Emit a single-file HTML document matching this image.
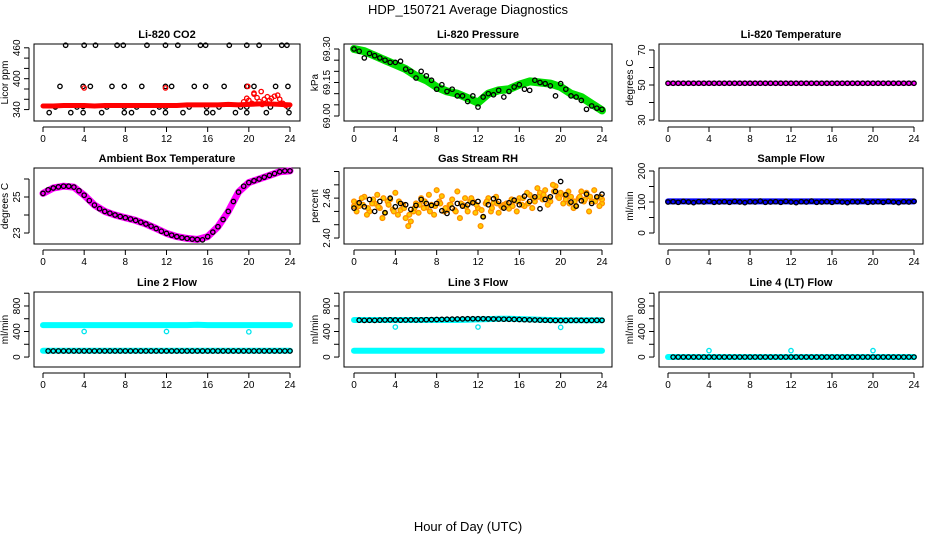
<!DOCTYPE html>
<html><head><meta charset="utf-8"><style>
body{margin:0;background:#fff;}
svg{display:block;font-family:"Liberation Sans",sans-serif;}
</style></head><body>
<svg id="chart" width="936" height="540" viewBox="0 0 936 540">
<text x="468" y="14" text-anchor="middle" font-size="13">HDP_150721  Average Diagnostics</text>
<text x="468" y="531" text-anchor="middle" font-size="13">Hour of Day (UTC)</text>
</svg>
<script>
// ---- data ----
const hours = [0,1,2,3,4,5,6,7,8,9,10,11,12,13,14,15,16,17,18,19,20,21,22,23,24];
const xTicks = [0,4,8,12,16,20,24];
// CO2
const co2BlackT = [2.2,4.0,5.1,7.2,7.8,10.1,11.9,13.1,15.3,15.8,18.1,19.8,21.0,23.2,23.7,
 1.65,3.9,4.6,6.7,7.9,9.6,11.9,12.5,14.7,15.8,17.6,19.8,20.5,22.6,23.8,
 1.2,3.3,3.9,6.2,7.9,9.1,11.3,11.9,14.2,15.9,17.1,19.2,19.8,22.1,23.8,
 0.6,2.7,3.9,5.7,7.9,8.6,10.7,11.9,13.6,15.9,16.5,18.7,19.8,21.7,23.9];
const co2BlackV = [465,465,465,465,465,465,465,465,465,465,465,465,465,465,465,
 385,385,385,385,385,385,385,385,385,385,385,385,385,385,385,
 345,345,346,345,345,345,345,345,345,345,345,345,345,345,345,
 334,334,334,334,334,334,334,334,334,334,334,334,334,334,334];
const co2Band = [347,347,348,348,348,347,348,348,348,348,348,348,348,348,349,349,349,349,350,349,350,351,351,350,349];
const co2RedT = [19.5,19.8,20,20.3,20.5,20.8,21,21.3,21.5,21.8,22,22.2,22.5,22.8,23,23.3,23.6,4,11.9,20.5,19.9,21.2];
const co2RedV = [355,362,358,352,370,363,356,350,360,365,358,362,366,368,360,352,348,382,382,372,385,375];
// Pressure
const presBand = [69.30,69.29,69.27,69.25,69.23,69.21,69.18,69.16,69.13,69.11,69.10,69.08,69.06,69.10,69.115,69.12,69.14,69.155,69.15,69.145,69.13,69.10,69.085,69.055,69.025];
const presCirc = [69.30,69.29,69.26,69.28,69.27,69.26,69.25,69.24,69.24,69.245,69.21,69.2,69.17,69.2,69.18,69.16,69.12,69.14,69.11,69.12,69.09,69.09,69.065,69.09,69.04,69.085,69.10,69.095,69.115,69.085,69.11,69.13,69.14,69.12,69.115,69.16,69.15,69.145,69.135,69.09,69.145,69.12,69.09,69.085,69.07,69.03,69.045,69.035,69.03];
// Li-820 temperature
const tempBand = [51,51,51,51,51,51,51,51,51,51,51,51,51,51,51,51,51,51,51,51,51,51,51,51,51];
const tempCirc = [51,51,51,51,51,51,51,51,51,51,51,51,51,51,51,51,51,51,51,51,51,51,51,51,51,51,51,51,51,51,51,51,51,51,51,51,51,51,51,51,51,51,51,51,51,51,51,51,51];
// Ambient
const ambBand = [25.2,25.5,25.6,25.55,25.1,24.55,24.2,24.0,23.85,23.7,23.5,23.25,22.98,22.8,22.7,22.64,22.8,23.35,24.2,25.27,25.8,26.0,26.2,26.4,26.45];
const ambCirc = [25.2,25.4,25.5,25.56,25.6,25.6,25.55,25.35,25.1,24.8,24.55,24.35,24.2,24.1,24.0,23.92,23.85,23.78,23.7,23.6,23.5,23.38,23.25,23.1,22.98,22.88,22.8,22.74,22.7,22.66,22.64,22.62,22.8,23.05,23.35,23.75,24.2,24.75,25.27,25.6,25.8,25.9,26.0,26.1,26.2,26.3,26.4,26.45,26.45];
// Gas stream RH
const rhCirc = [2.445,2.453,2.447,2.458,2.44,2.455,2.438,2.46,2.447,2.452,2.45,2.443,2.449,2.458,2.452,2.449,2.452,2.441,2.437,2.445,2.452,2.448,2.45,2.453,2.455,2.432,2.45,2.459,2.455,2.445,2.453,2.457,2.45,2.463,2.455,2.462,2.444,2.458,2.462,2.47,2.485,2.465,2.454,2.448,2.456,2.466,2.452,2.462,2.466];
const rhA = [2.455,2.448,2.462,2.44,2.452,2.445,2.438,2.458,2.468,2.442,2.43,2.425,2.452,2.46,2.446,2.45,2.472,2.463,2.442,2.458,2.47,2.45,2.44,2.455,2.445,2.432,2.46,2.453,2.438,2.45,2.444,2.456,2.46,2.448,2.465,2.455,2.468,2.472,2.455,2.478,2.468,2.458,2.462,2.448,2.47,2.468,2.455,2.46,2.452];
const rhB = [2.44,2.46,2.435,2.452,2.465,2.43,2.455,2.443,2.435,2.45,2.418,2.44,2.438,2.445,2.465,2.435,2.455,2.44,2.45,2.442,2.43,2.46,2.455,2.438,2.418,2.452,2.44,2.462,2.448,2.452,2.458,2.44,2.45,2.468,2.445,2.475,2.458,2.45,2.48,2.462,2.452,2.47,2.445,2.46,2.455,2.44,2.472,2.448,2.458];
const rhC = [2.448,2.452,2.45,2.445,2.458,2.447,2.46,2.45,2.44,2.455,2.445,2.435,2.445,2.45,2.455,2.44,2.448,2.452,2.445,2.45,2.44,2.452,2.447,2.46,2.45,2.442,2.455,2.445,2.452,2.446,2.45,2.448,2.455,2.46,2.452,2.46,2.462,2.465,2.46,2.47,2.46,2.465,2.452,2.455,2.462,2.458,2.462,2.455,2.462];
// Sample flow
const sfBand = [102,102,102,102,102,102,102,102,102,102,102,102,102,102,102,102,102,102,102,102,102,102,102,102,102];
const sfCirc = [100,101,99,102,100,98,101,100,103,99,100,101,99,102,100,98,101,100,103,99,100,101,99,102,100,98,101,100,103,99,100,101,99,102,100,98,101,100,103,99,100,101,99,102,100,98,101,100,102];
// Line 2
const l2High = [500,500,500,500,500,500,500,500,500,500,500,500,500,500,500,505,500,500,500,500,500,500,500,500,500];
const l2Low = [100,100,100,100,100,100,100,100,100,100,100,100,100,100,100,100,100,100,100,100,100,100,100,100,100];
const l2Circ = [95,95,95,95,95,95,95,95,95,95,95,95,95,95,95,95,95,95,95,95,95,95,95,95,95,95,95,95,95,95,95,95,95,95,95,95,95,95,95,95,95,95,95,95,95,95,95,95,95];
const l2OutT = [4,12,20];
const l2OutV = [400,400,395];
// Line 3
const l3High = [580,580,580,580,580,580,580,580,580,580,580,585,590,595,600,600,595,590,585,580,575,575,575,575,575];
const l3Low = [100,100,100,100,100,100,100,100,100,100,100,100,100,100,100,100,100,100,100,100,100,100,100,100,100];
const l3Circ = [580,578,575,576,575,578,580,582,580,578,580,582,580,582,585,586,588,590,592,594,596,598,600,600,600,600,598,596,595,593,592,590,588,585,582,580,578,576,575,573,572,573,575,575,574,573,575,576,575];
const l3OutT = [4,12,20];
const l3OutV = [470,470,465];
// Line 4
const l4Band = [0,0,0,0,0,0,0,0,0,0,0,0,0,0,0,0,0,0,0,0,0,0,0,0,0];
const l4Circ = [0,0,0,0,0,0,0,0,0,0,0,0,0,0,0,0,0,0,0,0,0,0,0,0,0,0,0,0,0,0,0,0,0,0,0,0,0,0,0,0,0,0,0,0,0,0,0,0,0];
const l4OutT = [4,12,20];
const l4OutV = [100,100,100];

// ---- layout ----
const NS='http://www.w3.org/2000/svg';
const svg=document.getElementById('chart');
const colL=[34,344,659], colR=[300,612,923], cx0=[43,354,668], cx24=[290,602,914];
const rowT=[44,168,292], rowB=[121,244,367];
function mk(tag,attrs,parent){const e=document.createElementNS(NS,tag);for(const k in attrs)e.setAttribute(k,attrs[k]);(parent||svg).appendChild(e);return e;}
function halfT(i){return i*0.5;}

function panel(c,r,name,title,ylab,dom,ticks,labels){
  const g=mk('g',{});
  
  
  const L=colL[c],R=colR[c],T=rowT[r],B=rowB[r];
  const xs=t=>cx0[c]+(cx24[c]-cx0[c])*t/24;
  const ys=v=>T+(dom[1]-v)/(dom[1]-dom[0])*(B-T);
  const box=mk('rect',{x:L,y:T,width:R-L,height:B-T,fill:'none',stroke:'#000','stroke-width':1},g);
  
  
  const tt=mk('text',{x:(L+R)/2,y:T-6,'text-anchor':'middle','font-size':11,'font-weight':'bold'},g);
  tt.textContent=title;
  
  
  const xa=mk('g',{},g);
  
  
  mk('line',{x1:xs(0),x2:xs(24),y1:B+6,y2:B+6,stroke:'#000'},xa);
  xTicks.forEach(t=>{mk('line',{x1:xs(t),x2:xs(t),y1:B+6,y2:B+11,stroke:'#000'},xa);
    const tx=mk('text',{x:xs(t),y:B+21,'text-anchor':'middle','font-size':10},xa);tx.textContent=t;
    
    });
  const ya=mk('g',{},g);
  
  
  mk('line',{x1:L-5,x2:L-5,y1:ys(ticks[0]),y2:ys(ticks[ticks.length-1]),stroke:'#000'},ya);
  ticks.forEach(v=>mk('line',{x1:L-10,x2:L-5,y1:ys(v),y2:ys(v),stroke:'#000'},ya));
  labels.forEach(v=>{const yy=ys(v);const tx=mk('text',{x:L-14,y:yy,'text-anchor':'middle','font-size':10,transform:`rotate(-90 ${L-14} ${yy})`},ya);tx.textContent=v;
    
    });
  const yt=mk('text',{x:L-26,y:(T+B)/2,'text-anchor':'middle','font-size':10,transform:`rotate(-90 ${L-26} ${(T+B)/2})`},g);
  yt.textContent=ylab;
  
  
  return {g,xs,ys};
}
function band(p,vals,color,w,name){
  const pts=vals.map((v,i)=>p.xs(hours[i]).toFixed(1)+','+p.ys(v).toFixed(1)).join(' ');
  const e=mk('polyline',{points:pts,fill:'none',stroke:color,'stroke-width':w,'stroke-linecap':'round','stroke-linejoin':'round'},p.g);
  
  
}
function circles(p,ts,vals,color,name,r,fill){
  const g=mk('g',{},p.g);
  
  
  vals.forEach((v,i)=>{mk('circle',{cx:p.xs(ts[i]),cy:p.ys(v),r:r||2.2,fill:fill||'none',stroke:color,'stroke-width':1.3},g);});
}
const halfTimes=[];for(let i=0;i<49;i++)halfTimes.push(halfT(i));
const qTimes=halfTimes.map(t=>Math.min(24,t+0.25));

// Panel 1
let p=panel(0,0,'co2','Li-820 CO2','Licor ppm',[317.8,467.4],[340,360,380,400,420,440,460],[340,400,460]);
circles(p,co2BlackT,co2BlackV,'#000','co2-raw-points');
band(p,co2Band,'#ff0000',5,'co2-average-band');
circles(p,co2RedT,co2RedV,'#ff0000','co2-average-points');
// Panel 2
p=panel(1,0,'pressure','Li-820 Pressure','kPa',[68.9776,69.3224],[69.00,69.05,69.10,69.15,69.20,69.25,69.30],['69.00','69.15','69.30']);
band(p,presBand,'#00e000',8,'pressure-average-band');
circles(p,halfTimes,presCirc,'#000','pressure-raw-points');
// Panel 3
p=panel(2,0,'li820-temp','Li-820 Temperature','degrees C',[29.43,73.43],[30,40,50,60,70],[30,50,70]);
band(p,tempBand,'#ff00ff',5,'temp-average-band');
circles(p,halfTimes,tempCirc,'#000','temp-raw-points');
// Panel 4
p=panel(0,1,'ambient','Ambient Box Temperature','degrees C',[22.39,26.61],[23,24,25,26],[23,25]);
band(p,ambBand,'#ff00ff',7,'ambient-average-band');
circles(p,halfTimes,ambCirc,'#000','ambient-raw-points');
// Panel 5
p=panel(1,1,'rh','Gas Stream RH','percent',[2.391,2.5053],[2.40,2.42,2.44,2.46,2.48,2.50],['2.40','2.46']);
circles(p,halfTimes,rhA,'#ff9000','rh-average-points-a',2.4,'#ffcc00');
circles(p,qTimes,rhB,'#ff9000','rh-average-points-b',2.4,'#ffcc00');
circles(p,halfTimes.map(t=>Math.max(0,t-0.15)),rhC,'#ff9000','rh-average-points-c',2.4,'#ffcc00');
circles(p,halfTimes,rhCirc,'#000','rh-raw-points');
// Panel 6
p=panel(2,1,'sample-flow','Sample Flow','ml/min',[-35.5,209.7],[0,50,100,150,200],[0,100,200]);
band(p,sfBand,'#0000ff',6,'sample-flow-band');
circles(p,halfTimes,sfCirc,'#000','sample-flow-raw-points');
// Panel 7
p=panel(0,2,'line2','Line 2 Flow','ml/min',[-156,1019],[0,200,400,600,800,1000],[0,400,800]);
band(p,l2High,'#00ffff',6,'line2-high-band');
band(p,l2Low,'#00ffff',6,'line2-low-band');
circles(p,halfTimes.slice(1),l2Circ.slice(1),'#000','line2-raw-points');
circles(p,l2OutT,l2OutV,'#00e5ee','line2-outliers');
// Panel 8
p=panel(1,2,'line3','Line 3 Flow','ml/min',[-156,1019],[0,200,400,600,800,1000],[0,400,800]);
band(p,l3High,'#00ffff',6,'line3-high-band');
band(p,l3Low,'#00ffff',6,'line3-low-band');
circles(p,halfTimes.slice(1),l3Circ.slice(1),'#000','line3-raw-points');
circles(p,l3OutT,l3OutV,'#00e5ee','line3-outliers');
// Panel 9
p=panel(2,2,'line4','Line 4 (LT) Flow','ml/min',[-156,1019],[0,200,400,600,800,1000],[0,400,800]);
band(p,l4Band,'#00ffff',6,'line4-band');
circles(p,halfTimes.slice(1),l4Circ.slice(1),'#000','line4-raw-points');
circles(p,l4OutT,l4OutV,'#00e5ee','line4-outliers');
</script>
</body></html>
